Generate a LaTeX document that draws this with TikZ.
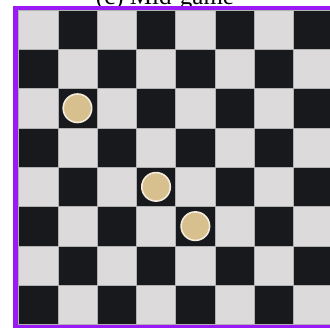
\documentclass[tikz,border=0pt]{standalone}
\usepackage{fontspec}
\setmainfont{Liberation Serif}
\definecolor{lightsq}{HTML}{DCDADB}
\definecolor{darksq}{HTML}{18191D}
\definecolor{boardframe}{HTML}{9A1AF5}
\definecolor{piecefill}{HTML}{D8BF8E}
\definecolor{pieceedge}{HTML}{F3ECDC}
\begin{document}
\begin{tikzpicture}[x=1pt,y=-1pt,line join=round,
	piece/.style={circle,draw=pieceedge,fill=piecefill,line width=1.6pt,minimum size=28.5pt,inner sep=0pt}]
	\def\s{39.3} \def\xo{18.5} \def\yo{10}
	\useasboundingbox (0,0) rectangle (330,328);
	\node (title) at (165,5) [anchor=base,font=\fontsize{25}{25}\selectfont]{(c) Mid-game};
	\fill[boardframe] (13,6.5) rectangle (340,340);
	\foreach \c in {0,...,7}
	\foreach \r in {0,...,7}
	{\pgfmathparse{int(mod(\c+\r,2))}
		\ifnum\pgfmathresult=0 \def\sqcol{lightsq}\else\def\sqcol{darksq}\fi
		\draw[draw=gray!60,line width=0.5pt,fill=\sqcol] (\xo+\c*\s,\yo+\r*\s) rectangle ++(\s,\s);}
	% pieces
	\foreach \c/\r/\n in {1/2/a,3/4/b,4/5/c}
	\node[piece] (p\n) at (\xo+\c*\s+\s/2,\yo+\r*\s+\s/2) {};
\end{tikzpicture}
\end{document}
